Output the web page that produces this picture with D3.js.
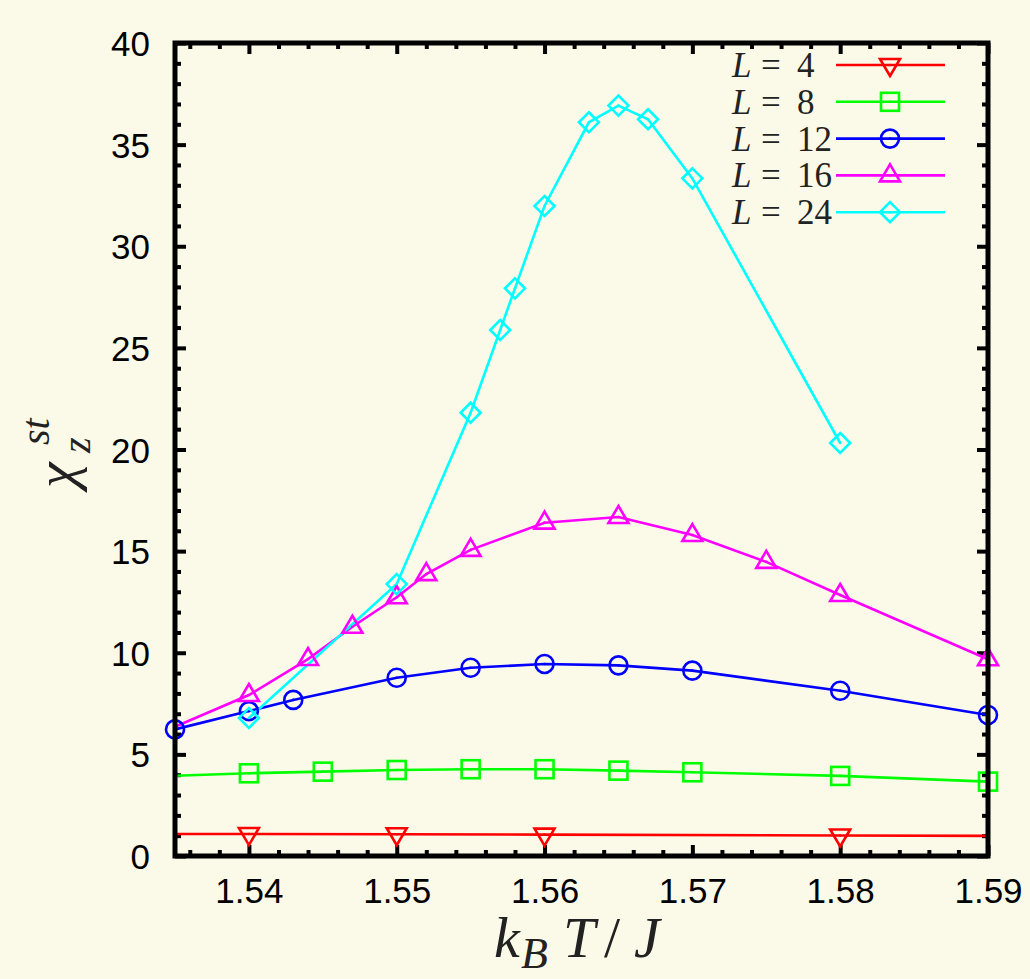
<!DOCTYPE html>
<html>
<head>
<meta charset="utf-8">
<script src="https://cdn.jsdelivr.net/npm/d3@7"></script>
<style>
  html, body { margin: 0; padding: 0; background: #fbfae8; }
  svg { display: block; }
</style>
</head>
<body>
<script>
// temperatures k_B T / J and chi_z^st for each lattice size
const t4  = [1.535, 1.54, 1.55, 1.56, 1.58, 1.59];
const v4  = [1.08, 1.08, 1.07, 1.05, 1.01, 0.99];
const t8  = [1.535, 1.54, 1.545, 1.55, 1.555, 1.56, 1.565, 1.57, 1.58, 1.59];
const v8  = [3.95, 4.07, 4.15, 4.23, 4.27, 4.27, 4.20, 4.12, 3.94, 3.66];
const t12 = [1.535, 1.54, 1.543, 1.55, 1.555, 1.56, 1.565, 1.57, 1.58, 1.59];
const v12 = [6.23, 7.13, 7.68, 8.77, 9.26, 9.45, 9.38, 9.12, 8.13, 6.94];
const t16 = [1.535, 1.54, 1.544, 1.547, 1.55, 1.552, 1.555, 1.56, 1.565, 1.57, 1.575, 1.58, 1.59];
const v16 = [6.36, 7.92, 9.69, 11.28, 12.73, 13.87, 15.06, 16.40, 16.68, 15.79, 14.47, 12.84, 9.68];
const t24 = [1.54, 1.55, 1.555, 1.557, 1.558, 1.56, 1.563, 1.565, 1.567, 1.57, 1.58];
const v24 = [6.79, 13.38, 21.81, 25.88, 27.93, 31.98, 36.10, 36.92, 36.25, 33.34, 20.32];

// points that only carry the line (no symbol drawn)
const bare4  = [1.535, 1.59];
const bare8  = [1.535];
const bare16 = [1.535];

const xTicks = [1.54, 1.55, 1.56, 1.57, 1.58, 1.59];
const yTicks = [0, 5, 10, 15, 20, 25, 30, 35, 40];
const labels = ["4", "8", "12", "16", "24"];

const series = [
  { L: labels[0], t: t4,  v: v4,  bare: bare4,  color: "#ff0000", sym: "down" },
  { L: labels[1], t: t8,  v: v8,  bare: bare8,  color: "#00ff00", sym: "square" },
  { L: labels[2], t: t12, v: v12, bare: [],     color: "#0000ff", sym: "circle" },
  { L: labels[3], t: t16, v: v16, bare: bare16, color: "#ff00ff", sym: "up" },
  { L: labels[4], t: t24, v: v24, bare: [],     color: "#00ffff", sym: "diamond" }
];

const W = 1030, H = 979;
const pLeft = 175, pRight = 988, pTop = 43, pBottom = 856;

const svg = d3.select("body").append("svg")
    .attr("width", W)
    .attr("height", H);

svg.append("rect")
    .attr("width", W).attr("height", H)
    .attr("fill", "#fbfae8");

const x = d3.scaleLinear().domain([1.535, 1.59]).range([pLeft, pRight]);
const y = d3.scaleLinear().domain([0, 40]).range([pBottom, pTop]);

const minorX = d3.range(1.536, 1.5901, 0.002).filter(d => Math.abs(Math.round(d * 100) - d * 100) > 1e-6);
const minorY = d3.range(1, 40, 1).filter(d => d % 5 !== 0);

function axisGroup(axis, tr) {
  const g = svg.append("g").attr("transform", tr).call(axis);
  g.select(".domain").remove();
  g.selectAll(".tick line").attr("stroke", "#000").attr("stroke-width", 4);
  return g;
}

// major ticks with labels
const gx = axisGroup(d3.axisBottom(x).tickValues(xTicks).tickSize(-11).tickPadding(22)
    .tickFormat(d3.format(".2f")), `translate(0,${pBottom})`);
const gy = axisGroup(d3.axisLeft(y).tickValues(yTicks).tickSize(-11).tickPadding(25)
    .tickFormat(d3.format("d")), `translate(${pLeft},0)`);
[gx, gy].forEach(g => g.selectAll("text")
    .attr("fill", "#000")
    .style("font-family", "'Liberation Sans', Arial, sans-serif")
    .style("font-size", "35px"));
gy.selectAll("text").attr("dy", "0.36em");
gx.selectAll("text").attr("dy", "0.7em");

// mirrored majors + minors
axisGroup(d3.axisTop(x).tickValues(xTicks).tickSize(-11).tickFormat(""), `translate(0,${pTop})`);
axisGroup(d3.axisRight(y).tickValues(yTicks).tickSize(-11).tickFormat(""), `translate(${pRight},0)`);
axisGroup(d3.axisBottom(x).tickValues(minorX).tickSize(-6).tickFormat(""), `translate(0,${pBottom})`);
axisGroup(d3.axisTop(x).tickValues(minorX).tickSize(-6).tickFormat(""), `translate(0,${pTop})`);
axisGroup(d3.axisLeft(y).tickValues(minorY).tickSize(-6).tickFormat(""), `translate(${pLeft},0)`);
axisGroup(d3.axisRight(y).tickValues(minorY).tickSize(-6).tickFormat(""), `translate(${pRight},0)`);

// symbols
function drawSym(g, sym, color, cx, cy) {
  const s = g.append("g").attr("transform", `translate(${cx},${cy})`)
      .attr("fill", "none").attr("stroke", color).attr("stroke-width", 2.6);
  if (sym === "circle") s.append("circle").attr("r", 9);
  else if (sym === "square") s.append("rect").attr("x", -9).attr("y", -9).attr("width", 18).attr("height", 18);
  else if (sym === "diamond") s.append("path").attr("d", "M0,-10 L10,0 L0,10 L-10,0 Z");
  else if (sym === "up") s.append("path").attr("d", "M0,-11 L10,6 L-10,6 Z");
  else if (sym === "down") s.append("path").attr("d", "M0,11 L10,-6 L-10,-6 Z");
  s.append("circle").attr("r", 1.3).attr("fill", color).attr("stroke", "none");
}

const line = d3.line().x(d => x(d[0])).y(d => y(d[1]));
const plot = svg.append("g");

series.forEach(s => {
  const pts = s.t.map((t, i) => [t, s.v[i]]);
  plot.append("path")
      .attr("d", line(pts))
      .attr("fill", "none")
      .attr("stroke", s.color)
      .attr("stroke-width", 2.6);
});
series.forEach(s => {
  s.t.forEach((t, i) => {
    if (s.bare.includes(t)) return;
    drawSym(plot, s.sym, s.color, x(t), y(s.v[i]));
  });
});

// frame
svg.append("rect")
    .attr("x", pLeft).attr("y", pTop)
    .attr("width", pRight - pLeft).attr("height", pBottom - pTop)
    .attr("fill", "none").attr("stroke", "#000").attr("stroke-width", 5);

// legend
const serif = "'Liberation Serif', 'Times New Roman', serif";
const leg = svg.append("g");
series.forEach((s, i) => {
  const cy = 65 + i * 36.8;
  const tx = leg.append("text")
      .attr("y", cy + 12)
      .attr("fill", "#222")
      .style("font-family", serif)
      .style("font-size", "35px");
  tx.append("tspan").attr("x", 732).style("font-style", "italic").text("L");
  tx.append("tspan").attr("x", 761).text("=");
  tx.append("tspan").attr("x", 797).text(s.L);
  leg.append("line")
      .attr("x1", 836).attr("x2", 945)
      .attr("y1", cy).attr("y2", cy)
      .attr("stroke", s.color).attr("stroke-width", 2.6);
  drawSym(leg, s.sym, s.color, 890, cy);
});

// axis titles
const xt = svg.append("text")
    .attr("y", 957)
    .attr("fill", "#222")
    .style("font-family", serif)
    .style("font-style", "italic")
    .style("font-size", "58px");
xt.append("tspan").attr("x", 494).text("k");
xt.append("tspan").attr("x", 521).attr("dy", 11).style("font-size", "44px").text("B");
xt.append("tspan").attr("x", 563).attr("dy", -11).text("T");
xt.append("tspan").attr("x", 604).style("font-style", "normal").text("/");
xt.append("tspan").attr("x", 634).text("J");

const yt = svg.append("text")
    .attr("transform", "translate(75,488) rotate(-90)")
    .attr("fill", "#222")
    .style("font-family", serif)
    .style("font-style", "italic")
    .style("font-size", "58px");
yt.append("tspan").attr("x", 0).attr("y", 0).text("χ");
yt.append("tspan").attr("x", 35).attr("y", 15).style("font-size", "40px").text("z");
yt.append("tspan").attr("x", 43).attr("y", -26).style("font-size", "40px").text("st");
</script>
</body>
</html>
